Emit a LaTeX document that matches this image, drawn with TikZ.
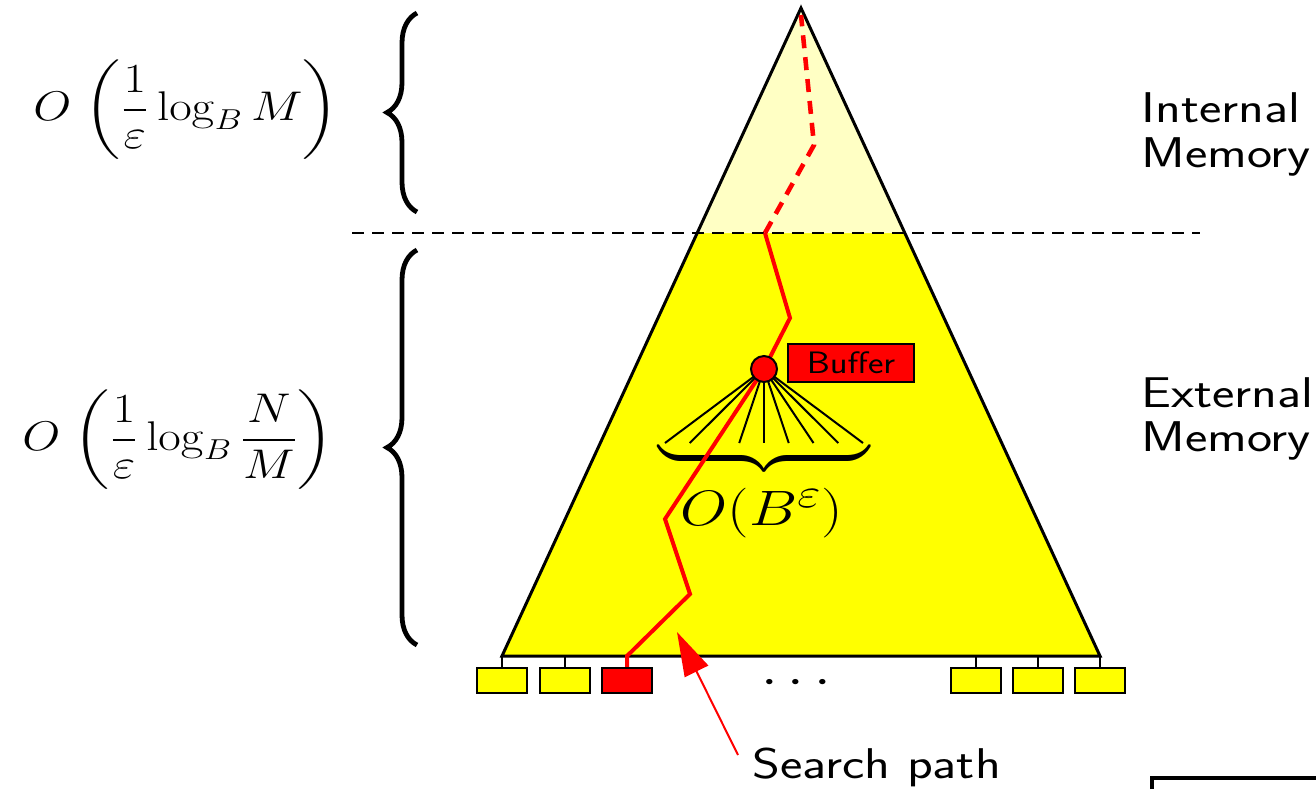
\documentclass[tikz,border=0pt]{standalone}
\usepackage{amsmath}
\usetikzlibrary{arrows.meta,decorations.pathreplacing}
\definecolor{yel}{RGB}{255,255,0}
\definecolor{paleyellow}{RGB}{255,255,196}
\definecolor{rd}{RGB}{255,0,0}
\begin{document}
\begin{tikzpicture}[x=0.5pt,y=-0.5pt,
  tri/.style={line width=1.5pt, line join=miter},
  leafbox/.style={draw=black, line width=1.2pt, fill=yel, minimum width=25pt, minimum height=12.5pt, inner sep=0pt},
  stem/.style={line width=1pt},
  redpath/.style={rd, line width=2pt, line join=miter},
  reddash/.style={rd, line width=2.3pt, dash pattern=on 6.5pt off 4.5pt},
  sep/.style={line width=1pt, dash pattern=on 6pt off 4pt},
  fan/.style={line width=1pt},
  bigbrace/.style={decorate, decoration={brace, amplitude=15pt, aspect=0.5}, line width=2.4pt},
  lbl/.style={font=\sffamily\fontsize{21.5}{25}\selectfont, inner sep=0pt, anchor=base west},
  mathlbl/.style={font=\fontsize{22.5}{27}\selectfont, inner sep=0pt}]
\useasboundingbox (0,0) rectangle (1316,789);
% triangle
\coordinate (apex) at (801,8);
\coordinate (bl) at (502,656);
\coordinate (br) at (1100,656);
\coordinate (ml) at (697.2,233);
\coordinate (mr) at (904.8,233);
\fill[yel] (bl) -- (ml) -- (mr) -- (br) -- cycle;
\fill[paleyellow] (apex) -- (ml) -- (mr) -- cycle;
\draw[tri] (apex) -- (bl) -- (br) -- cycle;
% separator
\coordinate (sepL) at (352,233);
\coordinate (sepR) at (1200,233);
\draw[sep] (sepL) -- (sepR);
% braces left
\coordinate (b1bot) at (417,212);
\coordinate (b1top) at (417,13);
\coordinate (b2bot) at (417,645);
\coordinate (b2top) at (417,250);
\draw[bigbrace] (b1bot) -- (b1top);
\draw[bigbrace] (b2bot) -- (b2top);
\node[mathlbl] (cost1) at (186,110) {\scalebox{1.18}[1]{$\displaystyle O\;\biggl(\frac{1}{\varepsilon}\log_B M\biggr)$}};
\node[mathlbl] (cost2) at (178,440) {\scalebox{1.18}[1]{$\displaystyle O\;\biggl(\frac{1}{\varepsilon}\log_B \frac{N}{M}\biggr)$}};
% right labels
\node[lbl] (int1) at (1141,122) {\scalebox{1.24}[1]{Internal}};
\node[lbl] (int2) at (1141,167) {\scalebox{1.24}[1]{Memory}};
\node[lbl] (ext1) at (1141,407) {\scalebox{1.24}[1]{External}};
\node[lbl] (ext2) at (1141,451) {\scalebox{1.24}[1]{Memory}};
% fan
\coordinate (hub) at (764,369);
\foreach \k in {0,...,8} {
  \coordinate (f\k) at (665+24.75*\k,443);
  \draw[fan] (hub) -- (f\k);
}
\node[inner sep=0pt, anchor=north] (ubrace) at (764,449) {\fontsize{34}{40}\selectfont$\underbrace{\hbox to 106pt{}}$};
\node[inner sep=0pt] (fanout) at (762,513) {\fontsize{28.5}{34}\selectfont\scalebox{1.22}[1]{$O(B^\varepsilon)$}};
% leaves
\node[leafbox] (l1) at (502,680.5) {};
\node[leafbox] (l2) at (565,680.5) {};
\node[leafbox, fill=rd] (l3) at (627,680.5) {};
\node[leafbox] (l4) at (976,680.5) {};
\node[leafbox] (l5) at (1038,680.5) {};
\node[leafbox] (l6) at (1100,680.5) {};
\foreach \i/\x in {1/502,2/565,4/976,5/1038,6/1100} {
  \coordinate (s\i) at (\x,656);
  \draw[stem] (l\i.north) -- (s\i);
}
\node[inner sep=0pt] (dots) at (801,683) {\fontsize{24}{28}\selectfont\scalebox{1.2}[1]{$\cdots$}};
% search path
\coordinate (p0) at (627,656);
\coordinate (p1) at (690,594);
\coordinate (p2) at (665,519);
\coordinate (p3) at (790,318);
\coordinate (p4) at (765,233);
\coordinate (p5) at (814,145);
\coordinate (p6) at (801,15);
\draw[redpath] (l3.north) -- (p0) -- (p1) -- (p2) -- (hub) -- (p3) -- (p4);
\draw[reddash] (p4) -- (p5) -- (p6);
\node[circle, fill=rd, draw=black, line width=1pt, minimum size=13pt, inner sep=0pt] (node) at (hub) {};
\node[draw=black, line width=1.2pt, fill=rd, minimum width=63pt, minimum height=19pt, inner sep=0pt, font=\sffamily\fontsize{15.5}{18}\selectfont] (buffer) at (851,363) {\scalebox{1.19}[1]{Buffer}};
% search path label
\node[lbl] (search) at (752,778) {\scalebox{1.24}[1]{Search path}};
\coordinate (arrstart) at (738,755);
\coordinate (arrtip) at (677,632);
\draw[rd, line width=1pt, -{Triangle[length=22pt,width=13pt]}] (arrstart) -- (arrtip);
% frame fragment
\coordinate (fr1) at (1152,789);
\coordinate (fr2) at (1152,778);
\coordinate (fr3) at (1316,778);
\draw[line width=2.3pt] (fr1) -- (fr2) -- (fr3);
\end{tikzpicture}
\end{document}
